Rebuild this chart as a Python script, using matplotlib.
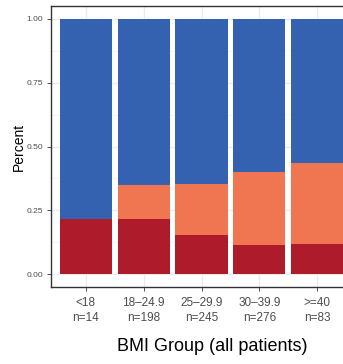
import numpy as np
import matplotlib
matplotlib.use("Agg")
import matplotlib.pyplot as plt
from matplotlib.ticker import MultipleLocator

plt.rcParams['font.family'] = ['Liberation Sans', 'DejaVu Sans']

# BMI groups and group sizes
grupos = ["<18", "18–24.9", "25–29.9", "30–39.9", ">=40"]
n_pacientes = [14, 198, 245, 276, 83]

# proportion of each outcome per group (bottom to top)
p_rojo = [0.216, 0.217, 0.155, 0.113, 0.118]
p_naranja = [0.000, 0.131, 0.200, 0.286, 0.316]
p_azul = [1 - r - o for r, o in zip(p_rojo, p_naranja)]

c_rojo = "#AE1C2C"
c_naranja = "#F07652"
c_azul = "#3462B0"

W, H = 343, 364
fig = plt.figure(figsize=(W / 100, H / 100), dpi=100)
# panel runs past the right edge of the figure
ax = fig.add_axes([51 / W, 1 - 287 / H, 301 / W, 281 / H])

x = np.arange(len(grupos))
ancho = 0.9
ax.bar(x, p_rojo, width=ancho, color=c_rojo, zorder=3)
ax.bar(x, p_naranja, width=ancho, bottom=p_rojo, color=c_naranja, zorder=3)
bottom_azul = [r + o for r, o in zip(p_rojo, p_naranja)]
ax.bar(x, p_azul, width=ancho, bottom=bottom_azul, color=c_azul, zorder=3)

ax.set_xlim(-0.6, len(grupos) - 0.4)
ax.set_ylim(-0.05, 1.05)

ax.set_yticks([0, 0.25, 0.5, 0.75, 1.0])
ax.set_yticklabels(["0.00", "0.25", "0.50", "0.75", "1.00"])
ax.yaxis.set_minor_locator(MultipleLocator(0.125))
ax.set_xticks(x)
ax.set_xticklabels([f"{g}\nn={n}" for g, n in zip(grupos, n_pacientes)],
                   linespacing=1.25)

ax.grid(which='major', color='#EBEBEB', linewidth=0.9, zorder=0)
ax.grid(which='minor', axis='y', color='#F2F2F2', linewidth=0.5, zorder=0)
ax.tick_params(axis='y', which='minor', length=0)
ax.tick_params(axis='y', which='major', labelsize=6, colors='#333333',
               labelcolor='#4D4D4D', length=3.0, width=0.6, pad=2.5)
ax.tick_params(axis='x', which='major', labelsize=8.5, colors='#333333',
               labelcolor='#4D4D4D', length=3.0, width=0.6, pad=4.5)

for lado in ['left', 'top', 'bottom', 'right']:
    ax.spines[lado].set_color('#333333')
    ax.spines[lado].set_linewidth(1.0)

ax.set_ylabel("Percent", fontsize=10, color='black')
ax.yaxis.set_label_coords(-0.083, 0.5)
ax.set_xlabel("BMI Group (all patients)", fontsize=13, color='black')
ax.xaxis.set_label_coords(0.535, -0.181)

fig.savefig("out.png", dpi=100)
